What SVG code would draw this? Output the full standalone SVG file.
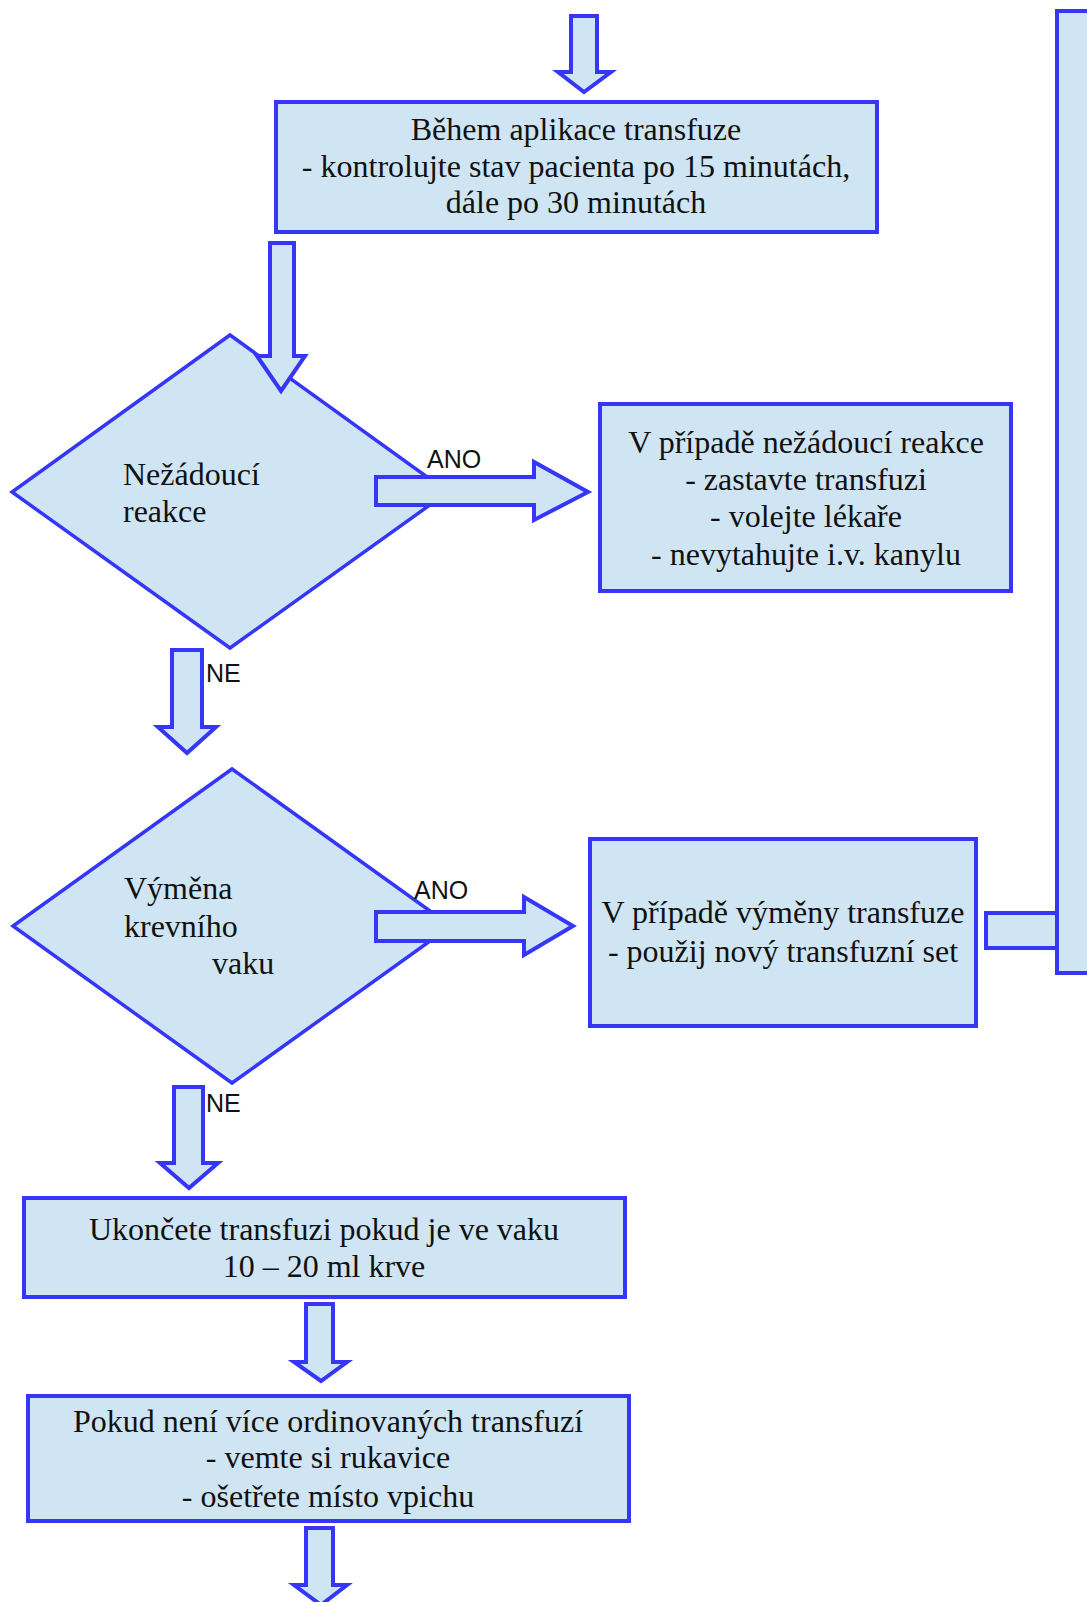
<svg xmlns="http://www.w3.org/2000/svg" width="1087" height="1602" viewBox="0 0 1087 1602">
<style>
.shape{fill:#cfe5f3;stroke:#3636f8;stroke-width:4;stroke-linejoin:miter}
.dia{fill:#cfe5f3;stroke:#3636f8;stroke-width:3.5}
.arr{fill:#cfe5f3;stroke:#3636f8;stroke-width:4;stroke-linejoin:miter}
.t{font-family:"Liberation Serif","Times New Roman",serif;font-size:32px;fill:#111}
.c{text-anchor:middle}
.lbl{font-family:"Liberation Sans",Arial,sans-serif;font-size:25px;fill:#111}
</style>
<rect width="1087" height="1602" fill="#fff"/>
<g id="side-box"><rect class="shape" x="1057" y="11" width="60" height="962"/></g>
<g id="box1">
<rect class="shape" x="276" y="102" width="601" height="130"/>
<text class="t c" x="576" y="140">Během aplikace transfuze</text>
<text class="t c" x="576" y="177">- kontrolujte stav pacienta po 15 minutách,</text>
<text class="t c" x="576" y="213">dále po 30 minutách</text>
</g>
<g id="diamond1">
<polygon class="dia" points="230,335 448,492 230,648 12,492"/>
<text class="t" x="123" y="485">Nežádoucí</text>
<text class="t" x="123" y="522">reakce</text>
</g>
<g id="box2">
<rect class="shape" x="600" y="404" width="411" height="187"/>
<text class="t c" x="806" y="453">V případě nežádoucí reakce</text>
<text class="t c" x="806" y="490">- zastavte transfuzi</text>
<text class="t c" x="806" y="527">- volejte lékaře</text>
<text class="t c" x="806" y="565">- nevytahujte i.v. kanylu</text>
</g>
<g id="diamond2">
<polygon class="dia" points="232,769 451,926 232,1083 13,926"/>
<text class="t" x="124" y="899">Výměna</text>
<text class="t" x="124" y="937">krevního</text>
<text class="t" x="212" y="974">vaku</text>
</g>
<g id="box3">
<rect class="shape" x="590" y="839" width="386" height="187"/>
<text class="t c" x="783" y="923">V případě výměny transfuze</text>
<text class="t c" x="783" y="962">- použij nový transfuzní set</text>
</g>
<g id="box4">
<rect class="shape" x="24" y="1198" width="601" height="99"/>
<text class="t c" x="324" y="1240">Ukončete transfuzi pokud je ve vaku</text>
<text class="t c" x="324" y="1277">10 – 20 ml krve</text>
</g>
<g id="box5">
<rect class="shape" x="28" y="1396" width="601" height="125"/>
<text class="t c" x="328" y="1432">Pokud není více ordinovaných transfuzí</text>
<text class="t c" x="328" y="1468">- vemte si rukavice</text>
<text class="t c" x="328" y="1507">- ošetřete místo vpichu</text>
</g>
<g id="connectors">
<polygon class="arr" points="571,16 597,16 597,72 611,72 584,92 558,72 571,72"/>
<polygon class="arr" points="270,243 294,243 294,356 305,356 281,391 257,356 270,356"/>
<polygon class="arr" points="376,477 534,477 534,462 588,492 534,520 534,505 376,505"/>
<polygon class="arr" points="172,650 202,650 202,727 216,727 187,753 158,727 172,727"/>
<polygon class="arr" points="376,912 524,912 524,897 573,926 524,955 524,941 376,941"/>
<polygon class="arr" points="174,1087 203,1087 203,1163 218,1163 189,1188 160,1163 174,1163"/>
<polygon class="arr" points="306,1304 333,1304 333,1362 347,1362 321,1381 294,1362 306,1362"/>
<polygon class="arr" points="306,1528 333,1528 333,1585 347,1585 321,1605 294,1585 306,1585"/>
<rect class="arr" x="986" y="913" width="71" height="35"/>
<text class="lbl" x="427" y="468">ANO</text>
<text class="lbl" x="206" y="682">NE</text>
<text class="lbl" x="414" y="899">ANO</text>
<text class="lbl" x="206" y="1112">NE</text>
</g>
</svg>
